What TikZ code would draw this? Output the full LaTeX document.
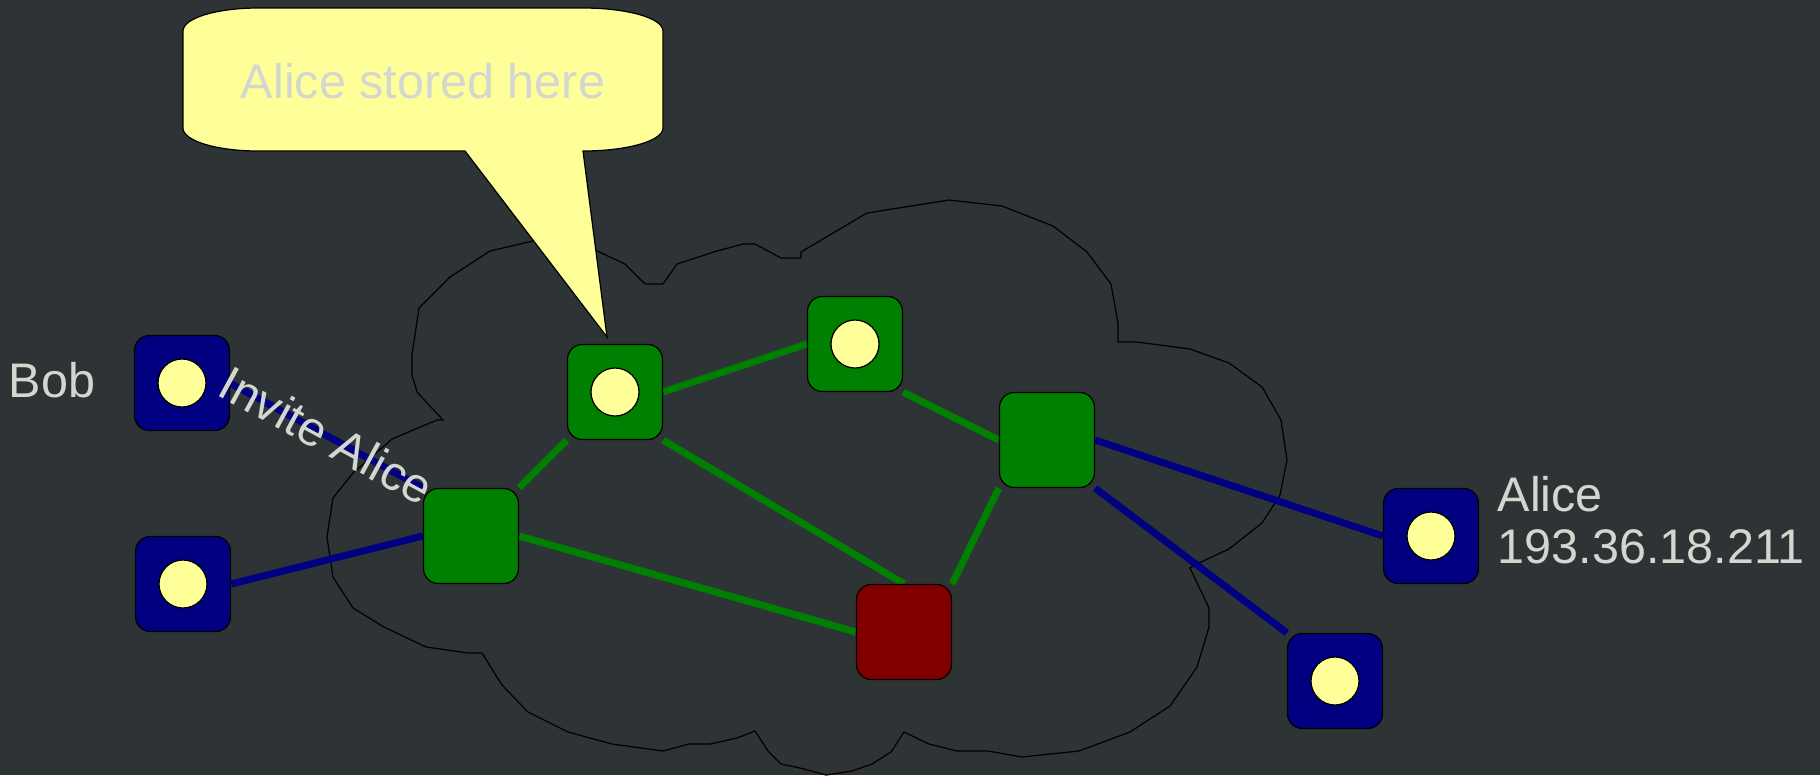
\documentclass[tikz,border=0pt]{standalone}
\usepackage{fontspec}
\setmainfont{Liberation Sans}
\usepackage{tikz}

\definecolor{bgdark}{RGB}{46,52,54}
\definecolor{pale}{RGB}{211,215,207}
\definecolor{note}{RGB}{255,255,153}
\definecolor{peergreen}{RGB}{0,128,0}
\definecolor{peerblue}{RGB}{0,0,128}
\definecolor{peerred}{RGB}{128,0,0}

\pgfdeclarelayer{back}
\pgfdeclarelayer{links}
\pgfsetlayers{back,links,main}

\begin{document}
\begin{tikzpicture}[x=0.01cm, y=-0.01cm,
  peer/.style={draw=black, line width=0.35pt, rounded corners=0.15cm,
    minimum width=0.95cm, minimum height=0.95cm, inner sep=0pt},
  dot/.style={path picture={\draw[fill=note, line width=0.35pt]
    (path picture bounding box.center) circle (0.24cm);}},
  greenlink/.style={peergreen, line width=0.07cm},
  bluelink/.style={peerblue, line width=0.07cm},
  txt/.style={text=pale, inner sep=0pt, font=\fontsize{13.8pt}{15pt}\selectfont}]
  \useasboundingbox (0,0) rectangle (1820,775);

  \begin{pgfonlayer}{back}
    \fill[bgdark] (0,0) rectangle (1820,775);
    % the cloud
    \draw[black, line width=0.35pt]
      (443,420) -- (417,392) -- (412,375) -- (412,355) -- (419,308) -- (450,277)
      -- (490,251) -- (533,241) -- (565,238) -- (595,250) -- (625,264) -- (645,284)
      -- (663,284) -- (677,264) -- (717,251) -- (743,244) -- (755,244) -- (781,258)
      -- (801,258) -- (801,252) -- (867,213) -- (949,200) -- (1002,206) -- (1053,226)
      -- (1087,252) -- (1111,284) -- (1118,323) -- (1118,342) -- (1137,342) -- (1190,349)
      -- (1229,363) -- (1262,387) -- (1281,420) -- (1287,460) -- (1280,495) -- (1262,523)
      -- (1229,549) -- (1201,562) -- (1190,568) -- (1209,608) -- (1209,627) -- (1197,667)
      -- (1170,706) -- (1130,732) -- (1079,751) -- (1022,757) -- (988,751) -- (957,751)
      -- (929,744) -- (904,732) -- (891,752) -- (872,764) -- (852,771) -- (826,775)
      -- (800,768) -- (781,764) -- (768,751) -- (755,731) -- (737,738) -- (710,744)
      -- (689,744) -- (663,751) -- (612,744) -- (568,732) -- (528,712) -- (502,685)
      -- (482,653) -- (468,653) -- (426,647) -- (384,627) -- (353,608) -- (333,577)
      -- (327,537) -- (333,498) -- (353,473) -- (392,439) -- (437,420) -- cycle;
  \end{pgfonlayer}

  \node[peer, fill=peerblue, dot] (bob) at (182,383) {};
  \node[peer, fill=peerblue, dot] (lowleft) at (183,584) {};
  \node[peer, fill=peergreen] (hubleft) at (471,536) {};
  \node[peer, fill=peergreen, dot] (store) at (615,392) {};
  \node[peer, fill=peergreen, dot] (relay) at (855,344) {};
  \node[peer, fill=peergreen] (hubright) at (1047,440) {};
  \node[peer, fill=peerred] (bad) at (904,632) {};
  \node[peer, fill=peerblue, dot] (alice) at (1431,536) {};
  \node[peer, fill=peerblue, dot] (lowright) at (1335,681) {};

  \begin{pgfonlayer}{links}
    \draw[greenlink] (store.south west) -- (hubleft.north east);
    \draw[greenlink] (store.east) -- (relay.west);
    \draw[greenlink] (store.south east) -- (bad.north);
    \draw[greenlink] (hubleft.east) -- (bad.west);
    \draw[greenlink] (relay.south east) -- (hubright.west);
    \draw[greenlink] (hubright.south west) -- (bad.north east);
    \draw[bluelink] (hubright.east) -- (alice.west);
    \draw[bluelink] (hubright.south east) -- (lowright.north west);
    \draw[bluelink] (lowleft.east) -- (hubleft.west);
    \draw[bluelink] (bob.east) -- (hubleft.north west);
  \end{pgfonlayer}
  \path (bob.east) -- (hubleft.north west)
    node[txt, midway, sloped] (invite) {Invite Alice};

  % the callout
  \draw[fill=note, line width=0.35pt] (258,8) -- (583,8)
    .. controls (627,8) and (663,18) .. (663,31) -- (663,128)
    .. controls (663,141) and (627,151) .. (583,151) -- (607,337) -- (465,151)
    -- (258,151) .. controls (217,151) and (183,141) .. (183,128) -- (183,31)
    .. controls (183,18) and (217,8) .. (258,8) -- cycle;
  \node[txt, anchor=base] (stored) at (423,98) {Alice stored here};

  \node[txt, anchor=base west] (bobname) at (8,397) {Bob};
  \node[txt, anchor=base west] (alicename) at (1497,511) {Alice};
  \node[txt, anchor=base west] (aliceip) at (1497,563) {193.36.18.211};
\end{tikzpicture}
\end{document}
